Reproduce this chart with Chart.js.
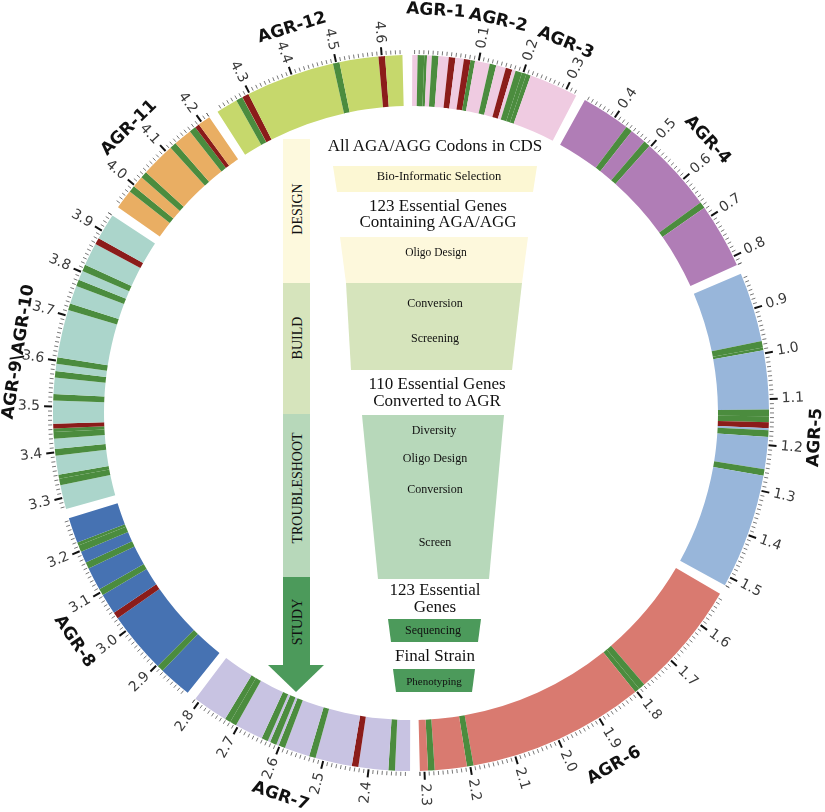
<!DOCTYPE html>
<html>
<head>
<meta charset="utf-8">
<script src="https://cdn.jsdelivr.net/npm/chart.js@4.4.1/dist/chart.umd.min.js"></script>
<style>
  html, body { margin: 0; padding: 0; background: #fff; }
  #wrap { position: relative; width: 825px; height: 812px; }
  #ring, #flow { position: absolute; left: 0; top: 0; }
  #flow text { font-family: "Liberation Serif", serif; fill: #111; }
</style>
</head>
<body>
<div id="wrap">
  <canvas id="ring" width="825" height="812"></canvas>
  <svg id="flow" width="825" height="812">
    <!-- phase bar -->
    <rect x="283" y="139" width="27" height="144" fill="#fdf9dd"/>
    <rect x="283" y="283" width="27" height="131" fill="#d6e4bc"/>
    <rect x="283" y="414" width="27" height="163" fill="#b7d8ba"/>
    <rect x="283" y="577" width="27" height="89" fill="#4c9a5b"/>
    <polygon points="268,665 324,665 296,692" fill="#4c9a5b"/>
    <text font-size="14" text-anchor="middle" dominant-baseline="central" transform="translate(297,209) rotate(-90)">DESIGN</text>
    <text font-size="14" text-anchor="middle" dominant-baseline="central" transform="translate(297,338) rotate(-90)">BUILD</text>
    <text font-size="14" text-anchor="middle" dominant-baseline="central" transform="translate(297,488) rotate(-90)">TROUBLESHOOT</text>
    <text font-size="14" text-anchor="middle" dominant-baseline="central" transform="translate(297,622) rotate(-90)">STUDY</text>

    <!-- funnel -->
    <polygon points="333,166 537,166 533,192 337,192" fill="#fcf7d3"/>
    <polygon points="340,237 528,237 522,283 346,283" fill="#fdf8dc"/>
    <polygon points="346,283 522,283 512,370 351,370" fill="#d6e4bc"/>
    <polygon points="362,415 504,415 489,579 378,579" fill="#b7d8ba"/>
    <polygon points="388,619 481,619 478,642 391,642" fill="#4c9a5b"/>
    <polygon points="393,669 475,669 472,692 396,692" fill="#4c9a5b"/>

    <g text-anchor="middle" dominant-baseline="central">
      <text x="435" y="145" font-size="17">All AGA/AGG Codons in CDS</text>
      <text x="439" y="176" font-size="12.5">Bio-Informatic Selection</text>
      <text x="438" y="205" font-size="17">123 Essential Genes</text>
      <text x="438" y="221" font-size="17">Containing AGA/AGG</text>
      <text x="436" y="252" font-size="11.5">Oligo Design</text>
      <text x="435" y="303" font-size="12">Conversion</text>
      <text x="435" y="338" font-size="12">Screening</text>
      <text x="437" y="383" font-size="17">110 Essential Genes</text>
      <text x="437" y="400" font-size="17">Converted to AGR</text>
      <text x="434" y="430" font-size="12">Diversity</text>
      <text x="435" y="458" font-size="12">Oligo Design</text>
      <text x="435" y="489" font-size="12">Conversion</text>
      <text x="435" y="542" font-size="12">Screen</text>
      <text x="435" y="589" font-size="17">123 Essential</text>
      <text x="435" y="606" font-size="17">Genes</text>
      <text x="433" y="630" font-size="12">Sequencing</text>
      <text x="435" y="655" font-size="17">Final Strain</text>
      <text x="434" y="681" font-size="11">Phenotyping</text>
    </g>
  </svg>
</div>

<script>
// ---------- genome segments (Mb) ----------
const SEG_START = [-0.045, 0.325, 0.82, 1.52, 2.31, 2.81, 3.275, 3.94, 4.22];
const SEG_END   = [0.325, 0.82, 1.52, 2.31, 2.81, 3.275, 3.94, 4.22, 4.645];

// gene marks (Mb)
const GREEN_GENES = [
  -0.026, -0.02, 0.005, 0.085, 0.132, 0.19, 0.2, 0.21,
  0.44, 0.49, 0.67,
  0.98, 0.986, 1.13, 1.143, 1.175, 1.26,
  1.785, 1.796, 2.2, 2.285,
  2.35, 2.525, 2.595, 2.615, 2.635, 2.712, 2.725,
  2.89, 3.1, 3.165, 3.205, 3.212,
  3.335, 3.344, 3.4, 3.437, 3.445, 3.52, 3.57, 3.6, 3.72, 3.775, 3.81,
  3.99, 4.03, 4.12, 4.175,
  4.275, 4.5
];
const RED_GENES = [0.042, 0.075, 0.168, 1.156, 2.43, 3.04, 3.455, 3.875, 4.185, 4.29, 4.6];

// region labels
const REGION_LABELS = ["AGR-1", "AGR-2", "AGR-3", "AGR-4", "AGR-5", "AGR-6", "AGR-7",
  "AGR-8", "AGR-9\\AGR-10", "AGR-11", "AGR-12"];
const REGION_LABEL_POS = [0.0, 0.122, 0.26, 0.573, 1.177, 1.923, 2.563, 3.044, 3.606, 4.079, 4.431];

// ---------- styles ----------
const SEG_COLORS = ["#efcbe1", "#b07db6", "#98b6da", "#d97a70", "#c8c3e2",
  "#4672b2", "#abd5cb", "#e9ae63", "#c6d86c"];
const GREEN = "#4b8c3e";
const RED = "#8b1c1a";
const LABEL_OFFSET = [45, 44, 43, 45, 47, 49, 47, 49, 39, 43, 45];
const GAP = 0.0213;     // visual break between segments, Mb equivalent
const MARK_W = 0.0145;  // width of a gene mark, Mb

// ---------- build slices ----------
const sliceVals = [];
const sliceColors = [];
const segFirst = [];

function push(v, c) { sliceVals.push(v); sliceColors.push(c); }

SEG_START.forEach((s, i) => {
  const e = SEG_END[i];
  const marks = GREEN_GENES.map(p => ({ p, c: GREEN }))
    .concat(RED_GENES.map(p => ({ p, c: RED })))
    .filter(m => m.p >= s && m.p <= e)
    .sort((a, b) => a.p - b.p);
  segFirst.push(sliceVals.length);
  let cur = s;
  marks.forEach(m => {
    const lo = Math.max(m.p - MARK_W / 2, cur);
    const hi = Math.min(m.p + MARK_W / 2, e);
    if (hi <= lo) return;
    if (lo > cur) push(lo - cur, SEG_COLORS[i]);
    push(hi - lo, m.c);
    cur = hi;
  });
  if (e > cur) push(e - cur, SEG_COLORS[i]);
  push(GAP, "rgba(0,0,0,0)");
});

const TOTAL = sliceVals.reduce((a, b) => a + b, 0);

function posToAngle(chart, pos) {
  const meta = chart.getDatasetMeta(0);
  const radPerMb = 2 * Math.PI / TOTAL;
  for (let i = 0; i < SEG_START.length; i++) {
    if (pos >= SEG_START[i] - 1e-9 && pos <= SEG_END[i] + 1e-9) {
      return meta.data[segFirst[i]].startAngle + (pos - SEG_START[i]) * radPerMb;
    }
  }
  return null;
}

// ---------- ticks + labels plugin ----------
const ringDecor = {
  id: "ringDecor",
  afterDatasetsDraw(chart) {
    const ctx = chart.ctx;
    const arc = chart.getDatasetMeta(0).data[0];
    const cx = arc.x, cy = arc.y, R = arc.outerRadius;

    ctx.save();
    // ticks every 0.01 Mb inside segments
    SEG_START.forEach((s, i) => {
      const e = SEG_END[i];
      for (let m = Math.ceil(s * 100 - 1e-6); m <= Math.floor(e * 100 + 1e-6); m++) {
        const pos = m / 100;
        const a = posToAngle(chart, pos);
        const major = m % 10 === 0 && m > 0;
        const len = major ? 8 : 4;
        ctx.beginPath();
        ctx.strokeStyle = major ? "#111" : "#555";
        ctx.lineWidth = major ? 2 : 0.8;
        ctx.moveTo(cx + Math.cos(a) * (R + 1), cy + Math.sin(a) * (R + 1));
        ctx.lineTo(cx + Math.cos(a) * (R + 1 + len), cy + Math.sin(a) * (R + 1 + len));
        ctx.stroke();

        if (major) {
          const lbl = (m / 100).toFixed(1);
          let na = a;
          while (na < -Math.PI / 2) na += 2 * Math.PI;
          while (na >= 3 * Math.PI / 2) na -= 2 * Math.PI;
          ctx.save();
          ctx.translate(cx, cy);
          ctx.font = "14px 'DejaVu Sans'";
          ctx.fillStyle = "#3a3a3a";
          ctx.textBaseline = "middle";
          if (na <= Math.PI / 2) {
            ctx.rotate(na);
            ctx.textAlign = "left";
            ctx.fillText(lbl, R + 13, 0);
          } else {
            ctx.rotate(na - Math.PI);
            ctx.textAlign = "right";
            ctx.fillText(lbl, -(R + 13), 0);
          }
          ctx.restore();
        }
      }
    });

    // region names
    REGION_LABELS.forEach((txt, i) => {
      const a = posToAngle(chart, REGION_LABEL_POS[i]);
      const r = R + LABEL_OFFSET[i];
      let rot = a + Math.PI / 2;
      while (rot > Math.PI) rot -= 2 * Math.PI;
      while (rot <= -Math.PI) rot += 2 * Math.PI;
      if (rot > Math.PI / 2) rot -= Math.PI;
      else if (rot < -Math.PI / 2) rot += Math.PI;
      ctx.save();
      ctx.translate(cx + Math.cos(a) * r, cy + Math.sin(a) * r);
      ctx.rotate(rot);
      ctx.font = "bold 17px 'DejaVu Sans'";
      ctx.fillStyle = "#111";
      ctx.textAlign = "center";
      ctx.textBaseline = "middle";
      ctx.fillText(txt, 0, 0);
      ctx.restore();
    });
    ctx.restore();
  }
};

// ---------- chart ----------
new Chart(document.getElementById("ring").getContext("2d"), {
  type: "doughnut",
  data: {
    labels: sliceVals.map((_, i) => "s" + i),
    datasets: [{
      data: sliceVals,
      backgroundColor: sliceColors,
      borderWidth: 0,
      hoverOffset: 0,
      offset: 0
    }]
  },
  options: {
    responsive: false,
    animation: false,
    events: [],
    rotation: 0.2,
    cutout: "85.75%",
    layout: { padding: { left: 53, right: 56, top: 55, bottom: 41 } },
    plugins: { legend: { display: false }, tooltip: { enabled: false } }
  },
  plugins: [ringDecor]
});
</script>
</body>
</html>
